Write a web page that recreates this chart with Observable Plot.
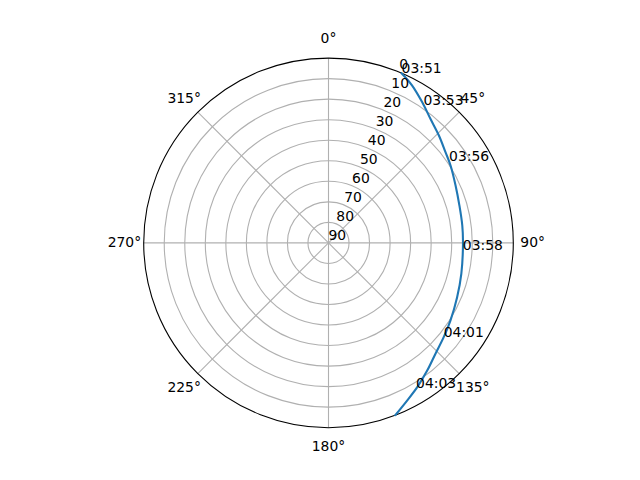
<!DOCTYPE html>
<html><head><meta charset="utf-8">
<script src="https://cdn.jsdelivr.net/npm/d3@7"></script>
<script src="https://cdn.jsdelivr.net/npm/@observablehq/plot@0.6"></script>
<style>body{margin:0;background:#fff;} svg{display:block}</style>
</head><body><div id="chart"></div>
<script>
// Satellite pass: azimuth (deg, clockwise from north) and elevation (deg)
const trackAz = [23.3, 28.0, 33.7, 39.4, 45.8, 52.2, 57.6, 65.7, 74.1, 82.6, 90.0, 103.0, 112.9, 122.5, 129.3, 136.0, 142.3, 148.4, 153.5, 158.8];
const trackEl = [0.0, 3.2, 7.7, 11.8, 15.0, 17.9, 19.6, 22.1, 23.7, 24.3, 24.5, 23.6, 22.0, 19.6, 17.5, 15.0, 11.4, 7.5, 4.2, 0.0];

// time annotations along the pass
const timeLabels = ["03:51", "03:53", "03:56", "03:58", "04:01", "04:03"];
const timeAz = [23.3, 34.5, 55.9, 92.9, 129.1, 148.9];
const timeEl = [0.0, 8.3, 19.1, 24.5, 17.7, 7.4];

// axes
const thetaTicks = [0, 45, 90, 135, 180, 225, 270, 315];
const thetaLabels = ["0°", "45°", "90°", "135°", "180°", "225°", "270°", "315°"];
const rTicks = [0, 10, 20, 30, 40, 50, 60, 70, 80, 90];
const rLabels = ["0", "10", "20", "30", "40", "50", "60", "70", "80", "90"];
const rLabelAngle = 22.5;
const ringTicks = [10, 20, 30, 40, 50, 60, 70, 80];

const rad = Math.PI / 180;
const px = (az, el) => (90 - el) * Math.sin(az * rad);
const py = (az, el) => (90 - el) * Math.cos(az * rad);

const track = trackAz.map((az, i) => ({az, el: trackEl[i]}));
const times = timeLabels.map((t, i) => ({t, az: timeAz[i], el: timeEl[i]}));

const R = 184.8;
const chart = Plot.plot({
  width: 640,
  height: 480,
  marginLeft: 143.2,
  marginRight: 127.2,
  marginTop: 57.6,
  marginBottom: 52.8,
  x: {domain: [-90, 90], axis: null},
  y: {domain: [-90, 90], axis: null},
  r: {type: "linear", domain: [0, 90], range: [0, R]},
  style: {fontFamily: "'DejaVu Sans', sans-serif", fontSize: "13.9px", background: "white", color: "black"},
  marks: [
    Plot.dot(ringTicks, {x: () => 0, y: () => 0, r: d => 90 - d, fill: "none", stroke: "#b0b0b0", strokeWidth: 1.1}),
    Plot.link(thetaTicks, {x1: () => 0, y1: () => 0, x2: d => px(d, 0), y2: d => py(d, 0), stroke: "#b0b0b0", strokeWidth: 1.1}),
    Plot.dot([0], {x: () => 0, y: () => 0, r: () => 90, fill: "none", stroke: "black", strokeWidth: 1.1}),
    Plot.line(track, {x: d => px(d.az, d.el), y: d => py(d.az, d.el), stroke: "#1f77b4", strokeWidth: 2.1, curve: "catmull-rom"}),
    Plot.text(thetaTicks, {x: d => px(d, -9.4), y: d => py(d, -9.4), text: (d, i) => thetaLabels[i], fill: "black", lineAnchor: "middle"}),
    Plot.text(rTicks, {x: d => px(rLabelAngle, d), y: d => py(rLabelAngle, d), text: (d, i) => rLabels[i], textAnchor: "start", lineAnchor: "bottom", dy: -3, fill: "black"}),
    Plot.text(times, {x: d => px(d.az, d.el), y: d => py(d.az, d.el), text: "t", textAnchor: "start", lineAnchor: "bottom", fill: "black"})
  ]
});
document.getElementById("chart").appendChild(chart);
</script>
</body></html>
